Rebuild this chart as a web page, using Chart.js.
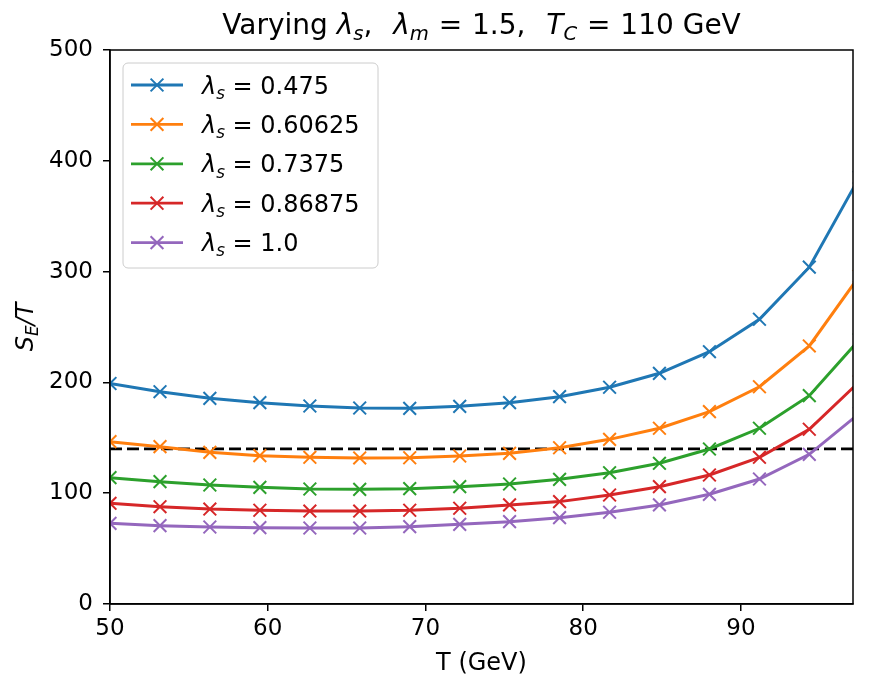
<!DOCTYPE html>
<html>
<head>
<meta charset="utf-8">
<script src="https://cdn.jsdelivr.net/npm/chart.js@4.4.1/dist/chart.umd.min.js"></script>
<style>
  html, body { margin: 0; padding: 0; background: #fff; }
  #wrap { width: 877px; height: 692px; }
</style>
</head>
<body>
<div id="wrap"><canvas id="chart" width="877" height="692"></canvas></div>
<script>
// temperatures (GeV)
const temps = [50, 53.17, 56.33, 59.5, 62.67, 65.83, 69, 72.17, 75.33, 78.5, 81.67, 84.83, 88, 91.17, 94.33, 97.5];

const lam0475 = [199, 191.6, 185.6, 181.7, 178.7, 176.9, 176.6, 178.4, 181.7, 187.1, 195.6, 208.2, 227.7, 257, 304, 385];
const lam060625 = [146.5, 142, 136.9, 133.9, 132.4, 131.8, 132, 133.6, 136, 141, 148.6, 158.6, 173.6, 196.1, 232.9, 296];
const lam07375 = [114, 110.4, 107.4, 105.3, 103.8, 103.5, 104.1, 105.9, 108.3, 112.5, 118.5, 127, 139.9, 158.6, 188, 238.5];
const lam086875 = [90.9, 87.8, 85.7, 84.6, 83.9, 83.9, 84.6, 86.4, 89.4, 92.4, 98.4, 105.9, 116.4, 132.4, 157.7, 200.6];
const lam10 = [72.8, 70.7, 69.5, 68.9, 68.6, 68.6, 69.8, 71.9, 74.3, 77.9, 82.8, 89.4, 99, 112.8, 135.1, 172];

const seriesLabels = ['0.475', '0.60625', '0.7375', '0.86875', '1.0'];
const seriesColors = ['#1f77b4', '#ff7f0e', '#2ca02c', '#d62728', '#9467bd'];
const threshold = 140;

const xTicks = [50, 60, 70, 80, 90];
const yTicks = [0, 100, 200, 300, 400, 500];

const FONT = '"DejaVu Sans", sans-serif';

const toPoints = (ys) => ys.map((y, i) => ({ x: temps[i], y: y }));

// draw a run of text pieces, some italic, some subscript, some with extra gap before
const drawRich = (ctx, segs, x, y, size, align) => {
  const fontOf = (s) => `${s.it ? 'italic ' : ''}${s.sub ? size * 0.7 : size}px ${FONT}`;
  let total = 0;
  segs.forEach(s => { ctx.font = fontOf(s); total += (s.gap || 0) + ctx.measureText(s.t).width; });
  let cx = align === 'center' ? x - total / 2 : x;
  ctx.textBaseline = 'alphabetic';
  ctx.textAlign = 'left';
  segs.forEach(s => {
    ctx.font = fontOf(s);
    cx += s.gap || 0;
    ctx.fillText(s.t, cx, s.sub ? y + size * 0.22 : y);
    cx += ctx.measureText(s.t).width;
  });
};

const decorations = {
  id: 'decorations',
  afterDatasetsDraw(chart) {
    const { ctx, chartArea: a } = chart;
    ctx.save();
    ctx.fillStyle = '#000';

    // frame
    ctx.strokeStyle = '#000';
    ctx.lineWidth = 1.5;
    ctx.strokeRect(a.left, a.top, a.right - a.left, a.bottom - a.top);

    // title
    drawRich(ctx, [
      { t: 'Varying ' },
      { t: 'λ', it: true }, { t: 's', it: true, sub: true },
      { t: ',  ' },
      { t: 'λ', it: true, gap: 3 }, { t: 'm', it: true, sub: true },
      { t: ' = ', gap: 1 }, { t: '1.5,  ', gap: 1 },
      { t: 'T', it: true, gap: 3 }, { t: 'C', it: true, sub: true },
      { t: ' = ', gap: 1 }, { t: '110 GeV', gap: 1 }
    ], (a.left + a.right) / 2, 34, 28, 'center');

    // x label
    ctx.font = `24px ${FONT}`;
    ctx.textAlign = 'center';
    ctx.textBaseline = 'alphabetic';
    ctx.fillText('T (GeV)', (a.left + a.right) / 2, 670);

    // y label
    ctx.save();
    ctx.translate(33, (a.top + a.bottom) / 2);
    ctx.rotate(-Math.PI / 2);
    drawRich(ctx, [
      { t: 'S', it: true }, { t: 'E', it: true, sub: true }, { t: '/', it: true }, { t: 'T', it: true }
    ], 0, 0, 24, 'center');
    ctx.restore();

    // legend
    const lx = 123, ly = 63, lw = 255, lh = 205;
    ctx.beginPath();
    ctx.roundRect(lx, ly, lw, lh, 5);
    ctx.fillStyle = 'rgba(255,255,255,0.8)';
    ctx.fill();
    ctx.strokeStyle = '#cccccc';
    ctx.lineWidth = 1;
    ctx.stroke();

    seriesLabels.forEach((lab, i) => {
      const ry = 85 + i * 39.4;
      const col = seriesColors[i];
      ctx.strokeStyle = col;
      ctx.lineWidth = 2.8;
      ctx.beginPath();
      ctx.moveTo(131, ry);
      ctx.lineTo(183, ry);
      ctx.stroke();
      const m = 6.4;
      ctx.lineWidth = 2;
      ctx.beginPath();
      ctx.moveTo(157 - m, ry - m); ctx.lineTo(157 + m, ry + m);
      ctx.moveTo(157 + m, ry - m); ctx.lineTo(157 - m, ry + m);
      ctx.stroke();
      ctx.fillStyle = '#000';
      drawRich(ctx, [
        { t: 'λ', it: true }, { t: 's', it: true, sub: true }, { t: ' = ' + lab }
      ], 202, ry + 8.5, 24, 'left');
    });

    ctx.restore();
  }
};

const lineSets = [lam0475, lam060625, lam07375, lam086875, lam10].map((ys, i) => ({
  label: seriesLabels[i],
  data: toPoints(ys),
  borderColor: seriesColors[i],
  backgroundColor: seriesColors[i],
  borderWidth: 3,
  pointStyle: 'crossRot',
  pointRadius: 9,
  pointBorderWidth: 2,
  pointBorderColor: seriesColors[i],
  fill: false,
  tension: 0
}));

const thresholdSet = {
  label: 'threshold',
  data: [{ x: temps[0], y: threshold }, { x: temps[temps.length - 1], y: threshold }],
  borderColor: '#000',
  borderWidth: 2.8,
  borderDash: [12, 5],
  pointRadius: 0,
  fill: false
};

new Chart(document.getElementById('chart'), {
  type: 'line',
  data: { datasets: [...lineSets, thresholdSet] },
  options: {
    responsive: false,
    animation: false,
    events: [],
    layout: { padding: { top: 50, right: 24, left: 0, bottom: 0 } },
    plugins: { legend: { display: false }, title: { display: false }, tooltip: { enabled: false } },
    scales: {
      x: {
        type: 'linear',
        min: 50,
        max: 97.1,
        afterFit: (s) => { s.height = 88; },
        afterBuildTicks: (s) => { s.ticks = xTicks.map(v => ({ value: v })); },
        grid: { drawOnChartArea: false, drawTicks: true, tickLength: 7, color: '#000', lineWidth: 1.5 },
        border: { display: true, color: '#000', width: 1.5 },
        ticks: { color: '#000', font: { family: FONT, size: 23 }, padding: 4, maxRotation: 0 }
      },
      y: {
        min: 0,
        max: 500,
        afterFit: (s) => { s.width = 110; },
        afterBuildTicks: (s) => { s.ticks = yTicks.map(v => ({ value: v })); },
        grid: { drawOnChartArea: false, drawTicks: true, tickLength: 7, color: '#000', lineWidth: 1.5 },
        border: { display: true, color: '#000', width: 1.5 },
        ticks: { color: '#000', font: { family: FONT, size: 23 }, padding: 10 }
      }
    }
  },
  plugins: [decorations]
});
</script>
</body>
</html>
